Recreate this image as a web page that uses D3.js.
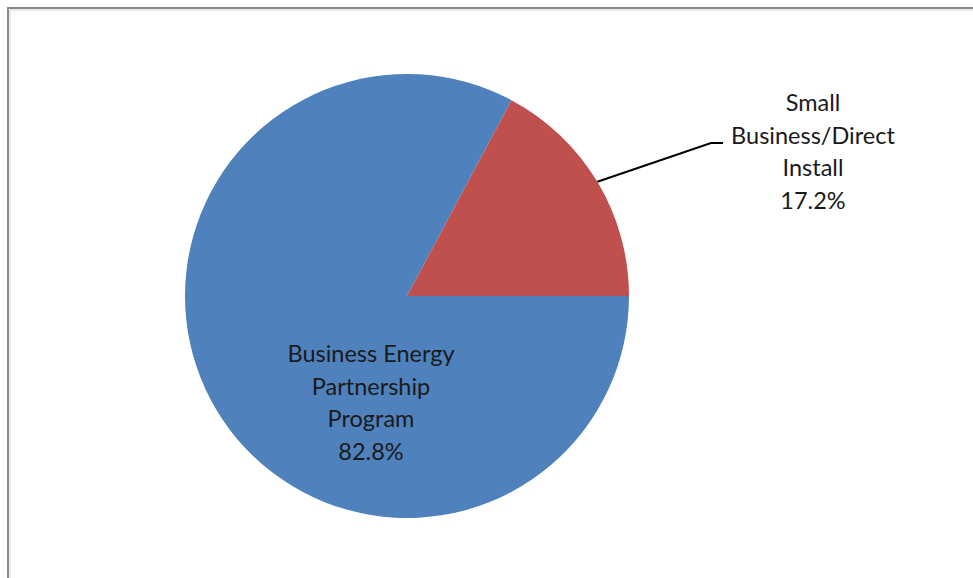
<!DOCTYPE html>
<html>
<head>
<meta charset="utf-8">
<script src="https://cdn.jsdelivr.net/npm/d3@7"></script>
<style>
  html, body { margin: 0; padding: 0; background: #fff; }
  svg { display: block; }
  text { font-family: Lato, "Open Sans", sans-serif; fill: #1a1a1a; }
</style>
</head>
<body>
<svg id="chart" width="973" height="578"></svg>
<script>
// Program share of the portfolio
const categories = ["Business Energy Partnership Program", "Small Business/Direct Install"];
const shares = [82.8, 17.2];
const labelLines = [
  ["Business Energy", "Partnership", "Program", "82.8%"],
  ["Small", "Business/Direct", "Install", "17.2%"]
];
const colors = ["#4F81BD", "#C0504D"];

const W = 973, H = 578;
const cx = 407, cy = 296, radius = 222;
const fontSize = 23.5, lineGap = 32.5;

const svg = d3.select("#chart");

// chart frame (runs off the right and bottom of the view)
svg.append("rect")
  .attr("x", 8).attr("y", 8)
  .attr("width", W + 20).attr("height", H + 20)
  .attr("fill", "#fff")
  .attr("stroke", "#8a8a8a").attr("stroke-width", 2);
svg.append("path")
  .attr("d", `M10,${H + 20}V10H${W + 20}`)
  .attr("fill", "none").attr("stroke", "#d6d6d6").attr("stroke-width", 1);

const pie = d3.pie()
  .sort(null)
  .value(d => d)
  .startAngle(Math.PI / 2)
  .endAngle(Math.PI / 2 + 2 * Math.PI);

const arcs = pie(shares);
const arc = d3.arc().innerRadius(0).outerRadius(radius);

const g = svg.append("g").attr("transform", `translate(${cx},${cy})`);

g.selectAll("path.slice")
  .data(arcs)
  .join("path")
  .attr("class", "slice")
  .attr("d", arc)
  .attr("fill", (d, i) => colors[i]);

// inside label for the large slice
const inside = g.append("text")
  .attr("text-anchor", "middle")
  .attr("font-size", fontSize);
labelLines[0].forEach((t, k) => {
  inside.append("tspan")
    .attr("x", -36)
    .attr("y", 66 + k * lineGap)
    .text(t);
});

// outside label with leader line for the small slice
const small = arcs[1];
const mid = (small.startAngle + small.endAngle) / 2;
const edge = [Math.sin(mid) * radius, -Math.cos(mid) * radius];
const elbow = [304, -153];
const tail = [elbow[0] + 12, elbow[1]];
g.append("path")
  .attr("d", d3.line()([edge, elbow, tail]))
  .attr("fill", "none")
  .attr("stroke", "#000")
  .attr("stroke-width", 2);

const outside = g.append("text")
  .attr("text-anchor", "middle")
  .attr("font-size", fontSize);
labelLines[1].forEach((t, k) => {
  outside.append("tspan")
    .attr("x", 406)
    .attr("y", -185 + k * lineGap)
    .text(t);
});
</script>
</body>
</html>
